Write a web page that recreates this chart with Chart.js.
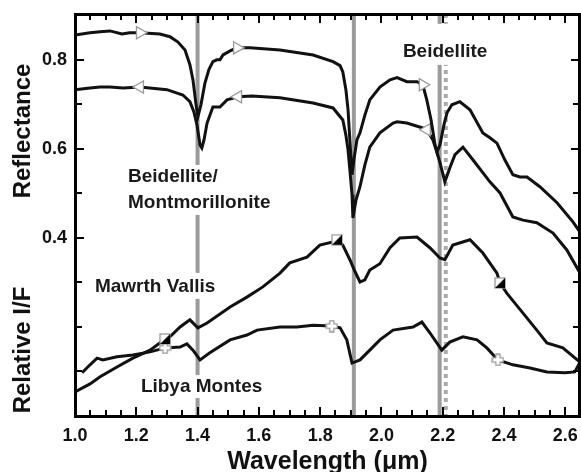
<!DOCTYPE html>
<html>
<head>
<meta charset="utf-8">
<script src="https://cdn.jsdelivr.net/npm/chart.js@4"></script>
<style>
  body { margin: 0; background: #fff; }
</style>
</head>
<body>
<canvas id="spectraChart" width="581" height="472"></canvas>
<script>
// lab spectra (reflectance)
var beidWl = [1.000, 1.049, 1.082, 1.114, 1.153, 1.179, 1.212, 1.277, 1.310, 1.336,
    1.359, 1.375, 1.385, 1.395, 1.401, 1.411, 1.424, 1.437, 1.450, 1.463,
    1.473, 1.483, 1.506, 1.529, 1.571, 1.669, 1.777, 1.842, 1.865, 1.874,
    1.884, 1.891, 1.897, 1.904, 1.910, 1.920, 1.930, 1.946, 1.962, 1.995,
    2.028, 2.051, 2.083, 2.116, 2.135, 2.148, 2.162, 2.175, 2.181, 2.191,
    2.204, 2.214, 2.230, 2.256, 2.289, 2.331, 2.354, 2.377, 2.403, 2.429,
    2.452, 2.475, 2.517, 2.573, 2.625, 2.648];
var beidVal = [0.856, 0.861, 0.863, 0.865, 0.858, 0.861, 0.861, 0.858, 0.852, 0.840,
    0.822, 0.789, 0.755, 0.699, 0.672, 0.699, 0.748, 0.778, 0.796, 0.800,
    0.800, 0.811, 0.820, 0.827, 0.827, 0.822, 0.811, 0.796, 0.787, 0.773,
    0.733, 0.688, 0.620, 0.542, 0.575, 0.620, 0.636, 0.676, 0.710, 0.739,
    0.755, 0.760, 0.751, 0.751, 0.744, 0.710, 0.665, 0.609, 0.593, 0.609,
    0.654, 0.681, 0.699, 0.706, 0.688, 0.636, 0.625, 0.613, 0.575, 0.542,
    0.537, 0.537, 0.515, 0.479, 0.436, 0.413];
var beidMarks = [1.212, 1.529, 2.135];

var montWl = [1.000, 1.049, 1.082, 1.114, 1.157, 1.212, 1.300, 1.352, 1.375, 1.388,
    1.398, 1.408, 1.414, 1.421, 1.431, 1.450, 1.473, 1.496, 1.532, 1.577,
    1.669, 1.777, 1.842, 1.874, 1.884, 1.891, 1.897, 1.904, 1.907, 1.917,
    1.930, 1.946, 1.962, 1.995, 2.038, 2.051, 2.083, 2.135, 2.148, 2.168,
    2.181, 2.191, 2.207, 2.223, 2.240, 2.266, 2.299, 2.354, 2.387, 2.429,
    2.462, 2.507, 2.560, 2.605, 2.648];
var montVal = [0.733, 0.737, 0.739, 0.739, 0.737, 0.739, 0.733, 0.721, 0.706, 0.683,
    0.654, 0.609, 0.602, 0.620, 0.658, 0.694, 0.694, 0.710, 0.717, 0.719,
    0.715, 0.703, 0.692, 0.665, 0.631, 0.598, 0.553, 0.497, 0.445, 0.485,
    0.515, 0.564, 0.604, 0.636, 0.658, 0.661, 0.658, 0.647, 0.643, 0.620,
    0.593, 0.569, 0.526, 0.557, 0.587, 0.604, 0.575, 0.526, 0.501, 0.447,
    0.440, 0.434, 0.411, 0.373, 0.321];
var montMarks = [1.212, 1.532, 2.148];

// orbital spectra (relative I/F)
var mawrthWl = [1.000, 1.049, 1.082, 1.137, 1.189, 1.245, 1.294, 1.310, 1.343, 1.365,
    1.375, 1.401, 1.431, 1.506, 1.561, 1.613, 1.669, 1.701, 1.757, 1.799,
    1.842, 1.855, 1.874, 1.897, 1.914, 1.930, 1.946, 1.962, 1.995, 2.028,
    2.060, 2.116, 2.158, 2.191, 2.207, 2.233, 2.289, 2.331, 2.377, 2.387,
    2.409, 2.462, 2.507, 2.540, 2.592, 2.648];
var mawrthVal = [0.054, 0.072, 0.088, 0.110, 0.130, 0.148, 0.173, 0.178, 0.200, 0.211,
    0.216, 0.198, 0.209, 0.245, 0.267, 0.290, 0.321, 0.344, 0.357, 0.384,
    0.391, 0.396, 0.384, 0.351, 0.324, 0.301, 0.306, 0.328, 0.342, 0.378,
    0.400, 0.402, 0.378, 0.355, 0.351, 0.384, 0.396, 0.366, 0.321, 0.299,
    0.276, 0.231, 0.193, 0.164, 0.153, 0.121];
var mawrthMarks = [1.294, 1.855, 2.387];

var libyaWl = [1.023, 1.049, 1.072, 1.091, 1.137, 1.189, 1.245, 1.294, 1.343, 1.365,
    1.385, 1.408, 1.440, 1.506, 1.561, 1.594, 1.669, 1.724, 1.777, 1.838,
    1.865, 1.887, 1.904, 1.930, 1.962, 1.995, 2.038, 2.103, 2.132, 2.158,
    2.197, 2.223, 2.266, 2.312, 2.344, 2.380, 2.429, 2.485, 2.540, 2.599,
    2.631, 2.648];
var libyaVal = [0.097, 0.115, 0.130, 0.126, 0.133, 0.137, 0.144, 0.153, 0.155, 0.162,
    0.148, 0.126, 0.142, 0.171, 0.182, 0.193, 0.200, 0.200, 0.204, 0.202,
    0.198, 0.171, 0.119, 0.126, 0.148, 0.171, 0.193, 0.200, 0.211, 0.187,
    0.148, 0.166, 0.178, 0.171, 0.153, 0.126, 0.115, 0.108, 0.099, 0.097,
    0.099, 0.121];
var libyaMarks = [1.294, 1.838, 2.380];

// absorption band positions (µm)
var bandLines = [1.40, 1.91, 2.19];
var bandDotted = [2.21];

// tick labels
var xTickLabels = [1.0, 1.2, 1.4, 1.6, 1.8, 2.0, 2.2, 2.4, 2.6];
var yTickLabels = [0.4, 0.6, 0.8];

var FONT = "'Liberation Sans', Arial, sans-serif";
var markEdge = '#9a9a9a';

function toPoints(wl, val) {
    return wl.map(function (w, i) { return { x: w, y: val[i] }; });
}

// point images for the orbital spectra
function crossImage(size) {
    var c = document.createElement('canvas');
    c.width = c.height = size;
    var g = c.getContext('2d');
    var a = size * 0.32, m = size / 2, e = 1;
    g.beginPath();
    g.moveTo(m - a / 2, e); g.lineTo(m + a / 2, e); g.lineTo(m + a / 2, m - a / 2);
    g.lineTo(size - e, m - a / 2); g.lineTo(size - e, m + a / 2); g.lineTo(m + a / 2, m + a / 2);
    g.lineTo(m + a / 2, size - e); g.lineTo(m - a / 2, size - e); g.lineTo(m - a / 2, m + a / 2);
    g.lineTo(e, m + a / 2); g.lineTo(e, m - a / 2); g.lineTo(m - a / 2, m - a / 2);
    g.closePath();
    g.fillStyle = '#fff';
    g.fill();
    g.strokeStyle = markEdge;
    g.lineWidth = 1.3;
    g.stroke();
    return c;
}

function halfSquareImage(size) {
    var c = document.createElement('canvas');
    c.width = c.height = size;
    var g = c.getContext('2d');
    g.fillStyle = '#fff';
    g.fillRect(1, 1, size - 2, size - 2);
    g.strokeStyle = markEdge;
    g.lineWidth = 1.3;
    g.strokeRect(1, 1, size - 2, size - 2);
    g.beginPath();
    g.moveTo(size - 1, 1);
    g.lineTo(size - 1, size - 1);
    g.lineTo(1, size - 1);
    g.closePath();
    g.fillStyle = '#000';
    g.fill();
    return c;
}

var crossPt = crossImage(13);
var squarePt = halfSquareImage(12);

function markRadius(marks, r) {
    return function (ctx) {
        return marks.indexOf(ctx.raw.x) >= 0 ? r : 0;
    };
}

function drawLabel(ctx, lines, x, y, lineGap, padTop, padBottom) {
    ctx.font = 'bold 19px ' + FONT;
    var w = 0;
    lines.forEach(function (s) { w = Math.max(w, ctx.measureText(s).width); });
    ctx.fillStyle = '#fff';
    ctx.fillRect(x - 3, y - padTop, w + 6, padTop + padBottom + lineGap * (lines.length - 1));
    ctx.fillStyle = '#1a1a1a';
    ctx.textAlign = 'left';
    ctx.textBaseline = 'middle';
    lines.forEach(function (s, i) { ctx.fillText(s, x, y + i * lineGap); });
}

// band lines, dotted line and text labels under the spectra
var bandPlugin = {
    id: 'bands',
    beforeDatasetsDraw: function (chart) {
        var ctx = chart.ctx, area = chart.chartArea;
        var xs = chart.scales.x, ys = chart.scales.y;
        ctx.save();
        ctx.strokeStyle = '#9b9b9b';
        ctx.lineWidth = 4;
        bandLines.forEach(function (w) {
            var px = xs.getPixelForValue(w);
            ctx.beginPath();
            ctx.moveTo(px, area.top);
            ctx.lineTo(px, area.bottom);
            ctx.stroke();
        });
        ctx.strokeStyle = '#ababab';
        ctx.setLineDash([4, 4]);
        bandDotted.forEach(function (w) {
            var px = xs.getPixelForValue(w);
            ctx.beginPath();
            ctx.moveTo(px, area.top);
            ctx.lineTo(px, area.bottom);
            ctx.stroke();
        });
        ctx.setLineDash([]);

        drawLabel(ctx, ['Beidellite/', 'Montmorillonite'],
            xs.getPixelForValue(1.173), ys.getPixelForValue(0.537), 26, 12, 12);
        drawLabel(ctx, ['Beidellite'],
            xs.getPixelForValue(2.070), ys.getPixelForValue(0.818), 0, 28, 13);
        drawLabel(ctx, ['Mawrth Vallis'],
            xs.getPixelForValue(1.065), ys.getPixelForValue(0.290), 0, 14, 12);
        drawLabel(ctx, ['Libya Montes'],
            xs.getPixelForValue(1.215), ys.getPixelForValue(0.065), 0, 12, 11);
        ctx.restore();
    },
    afterDraw: function (chart) {
        var ctx = chart.ctx, a = chart.chartArea;
        var xs = chart.scales.x, ys = chart.scales.y;
        var L = Math.round(a.left), R = Math.round(a.right);
        var T = Math.round(a.top), B = Math.round(a.bottom);
        ctx.save();
        ctx.fillStyle = '#000';

        // frame, 3px thick, centred on the chart area edges
        ctx.fillRect(L - 1, T - 1, R - L + 2, 3);
        ctx.fillRect(L - 1, B - 1, R - L + 2, 3);
        ctx.fillRect(L - 1, T - 1, 3, B - T + 3);
        ctx.fillRect(R - 2, T - 1, 3, B - T + 3);

        // inward ticks on all four sides
        for (var i = 0; i <= 32; i++) {
            var px = Math.round(xs.getPixelForValue(1.0 + i * 0.05));
            var len = i % 4 === 0 ? 9 : 6;
            ctx.fillRect(px - 1, B - len, 2, len);
            ctx.fillRect(px - 1, T, 2, len);
        }
        for (var k = 1; k <= 8; k++) {
            var py = Math.round(ys.getPixelForValue(k / 10));
            var l2 = (k === 4 || k === 6 || k === 8) ? 9 : 7;
            ctx.fillRect(L, py - 1, l2, 2);
            ctx.fillRect(R - l2, py - 1, l2, 2);
        }

        // the two stacked y titles
        ctx.fillStyle = '#111';
        ctx.font = 'bold 24px ' + FONT;
        ctx.textAlign = 'center';
        ctx.textBaseline = 'middle';
        [['Reflectance', 131], ['Relative I/F', 350]].forEach(function (t) {
            ctx.save();
            ctx.translate(23, t[1]);
            ctx.rotate(-Math.PI / 2);
            ctx.fillText(t[0], 0, 0);
            ctx.restore();
        });
        ctx.restore();
    }
};

var lineBase = {
    borderColor: '#111',
    borderWidth: 3,
    tension: 0,
    fill: false,
    pointBackgroundColor: '#fff',
    pointBorderColor: markEdge,
    pointBorderWidth: 1.3
};

var ctx = document.getElementById('spectraChart').getContext('2d');

new Chart(ctx, {
    type: 'line',
    data: {
        datasets: [
            Object.assign({}, lineBase, {
                label: 'Beidellite',
                data: toPoints(beidWl, beidVal),
                pointStyle: 'triangle',
                rotation: 90,
                pointRadius: markRadius(beidMarks, 7)
            }),
            Object.assign({}, lineBase, {
                label: 'Beidellite/Montmorillonite',
                data: toPoints(montWl, montVal),
                pointStyle: 'triangle',
                rotation: -90,
                pointRadius: markRadius(montMarks, 7)
            }),
            Object.assign({}, lineBase, {
                label: 'Mawrth Vallis',
                data: toPoints(mawrthWl, mawrthVal),
                pointStyle: squarePt,
                pointRadius: markRadius(mawrthMarks, 6)
            }),
            Object.assign({}, lineBase, {
                label: 'Libya Montes',
                data: toPoints(libyaWl, libyaVal),
                pointStyle: crossPt,
                pointRadius: markRadius(libyaMarks, 6)
            })
        ]
    },
    options: {
        responsive: false,
        animation: false,
        events: [],
        layout: {
            padding: { top: 14, right: 1, left: 0, bottom: 0 }
        },
        plugins: {
            legend: { display: false },
            tooltip: { enabled: false }
        },
        scales: {
            x: {
                type: 'linear',
                min: 1.0,
                max: 2.648,
                grid: { display: false, drawTicks: false },
                border: { display: false },
                afterBuildTicks: function (scale) {
                    scale.ticks = xTickLabels.map(function (v) { return { value: v }; });
                },
                ticks: {
                    autoSkip: false,
                    maxRotation: 0,
                    padding: 9,
                    color: '#111',
                    font: { family: FONT, size: 18, weight: 'bold' },
                    callback: function (value) { return value.toFixed(1); }
                },
                title: {
                    display: true,
                    text: 'Wavelength (μm)',
                    color: '#111',
                    font: { family: FONT, size: 25, weight: 'bold', lineHeight: 1 },
                    padding: { top: 0, bottom: -3 }
                },
                afterFit: function (scale) {
                    scale.height = 56;
                    scale.paddingLeft = 0;
                    scale.paddingRight = 0;
                }
            },
            y: {
                min: 0,
                max: 0.903,
                grid: { display: false, drawTicks: false },
                border: { display: false },
                afterBuildTicks: function (scale) {
                    scale.ticks = yTickLabels.map(function (v) { return { value: v }; });
                },
                ticks: {
                    autoSkip: false,
                    padding: 8,
                    color: '#111',
                    font: { family: FONT, size: 18, weight: 'bold' },
                    callback: function (value) { return value.toFixed(1); }
                },
                afterFit: function (scale) {
                    scale.width = 75;
                    scale.paddingTop = 0;
                    scale.paddingBottom = 0;
                }
            }
        }
    },
    plugins: [bandPlugin]
});
</script>
</body>
</html>
